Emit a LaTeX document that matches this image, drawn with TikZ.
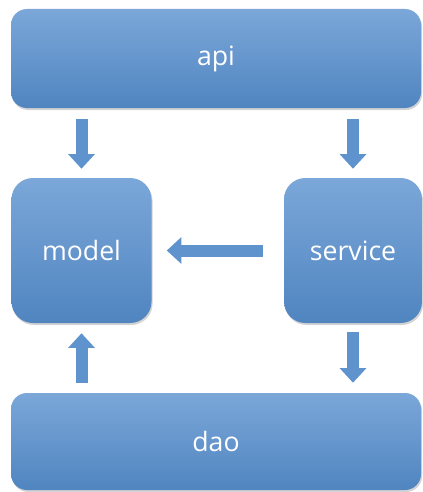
\documentclass[tikz,border=0pt]{standalone}
\usepackage{fontspec}
\setmainfont{Open Sans}
\usetikzlibrary{arrows.meta,shadows}

\definecolor{boxtop}{HTML}{7BA7D9}
\definecolor{boxbottom}{HTML}{5085C0}
\definecolor{arrowfill}{HTML}{5E93CE}

\tikzset{
  layerbox/.style={draw=none, top color=boxtop, bottom color=boxbottom, text=white,
    font=\fontsize{20}{24}\selectfont, rounded corners=12,
    drop shadow={opacity=0.35, shadow xshift=0.8pt, shadow yshift=-1.5pt}},
  blockarrow/.style={draw=arrowfill, line width=9pt,
    -{Triangle[width=19.5pt, length=11pt, fill=arrowfill]}},
}

\begin{document}
\begin{tikzpicture}[x=0.75pt,y=0.75pt,yscale=-1,xscale=1]
        \useasboundingbox (0,0) rectangle (423,492);

        %Rounded Rect [api]
        \node [layerbox, minimum width=307.5pt, minimum height=74.25pt] (api) at (216,58.5) {api};
        %Rounded Rect [model]
        \node [layerbox, rounded corners=16, minimum width=105pt, minimum height=108.75pt] (model) at (81.5,250.5) {model};
        %Rounded Rect [service]
        \node [layerbox, rounded corners=16, minimum width=103.5pt, minimum height=108.75pt] (service) at (353,250.5) {service};
        %Rounded Rect [dao]
        \node [layerbox, minimum width=307.5pt, minimum height=72.75pt] (dao) at (216,441.5) {dao};

        %Block Arrows
        \draw [blockarrow, shorten <=8.25pt, shorten >=6.75pt] (api.south -| model) -- (model.north);
        \draw [blockarrow, shorten <=8.25pt, shorten >=6.75pt] (api.south -| service) -- (service.north);
        \draw [blockarrow, shorten <=15.75pt, shorten >=11.25pt] (service.west) -- (model.east);
        \draw [blockarrow, shorten <=7.5pt, shorten >=7.5pt] (dao.north -| model) -- (model.south);
        \draw [blockarrow, shorten <=6.75pt, shorten >=7.5pt] (service.south) -- (service.south |- dao.north);

\end{tikzpicture}
\end{document}
